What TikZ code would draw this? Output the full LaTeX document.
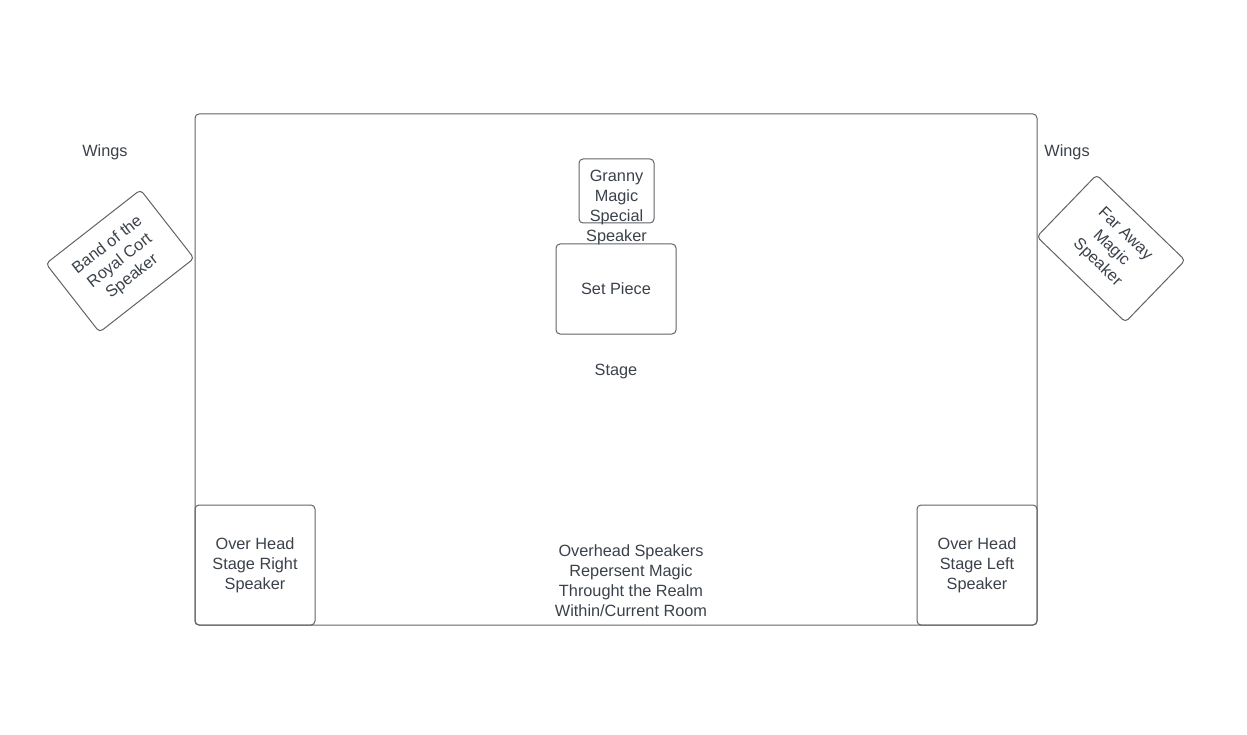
\documentclass[tikz,border=0pt]{standalone}
\usepackage{fontspec}
\setmainfont{Liberation Sans}
\definecolor{inchiostro}{HTML}{3A414A}
\definecolor{bordo}{HTML}{5F6368}

\tikzset{
  spk/.style={draw=bordo,line width=1pt,rounded corners=4pt,inner sep=0pt,
    align=center,text=inchiostro},
  etichetta/.style={text=inchiostro,align=center,inner sep=0pt}
}

\begin{document}
\begin{tikzpicture}[x=1pt,y=-1pt,font=\fontsize{16.3}{20}\selectfont]
        \useasboundingbox (0,0) rectangle (1247,735);
        % palco
        \node[spk,minimum width=842pt,minimum height=511pt] (palco) at (616,369.5) {};
        \node[etichetta] (stage) at (616,371) {Stage};
        \node[etichetta] (winsx) at (105,152) {Wings};
        \node[etichetta] (windx) at (1067,152) {Wings};
        % casse nelle quinte
        \node[spk,rotate=38,minimum width=120pt,minimum height=87pt] (band) at (120,261) {Band of the\\Royal Cort\\Speaker};
        \node[spk,rotate=-44,minimum width=123pt,minimum height=86pt] (faraway) at (1111,248.5) {Far Away\\Magic\\Speaker};
        % centro palco
        \node[spk,minimum width=75pt,minimum height=64pt] (granny) at (616.5,191) {};
        \node[etichetta] (grannytxt) at (616.5,208) {Granny\\Magic\\Special\\Speaker};
        \node[spk,minimum width=120pt,minimum height=90pt] (set) at (616,289) {Set Piece};
        % casse sopra
        \node[spk,minimum width=120pt,minimum height=120pt] (ohdx) at (255,565) {Over Head\\Stage Right\\Speaker};
        \node[spk,minimum width=120pt,minimum height=120pt] (ohsx) at (977,565) {Over Head\\Stage Left\\Speaker};
        \node[etichetta] (nota) at (631,581) {Overhead Speakers\\Repersent Magic\\Throught the Realm\\Within/Current Room};
      \end{tikzpicture}
\end{document}
